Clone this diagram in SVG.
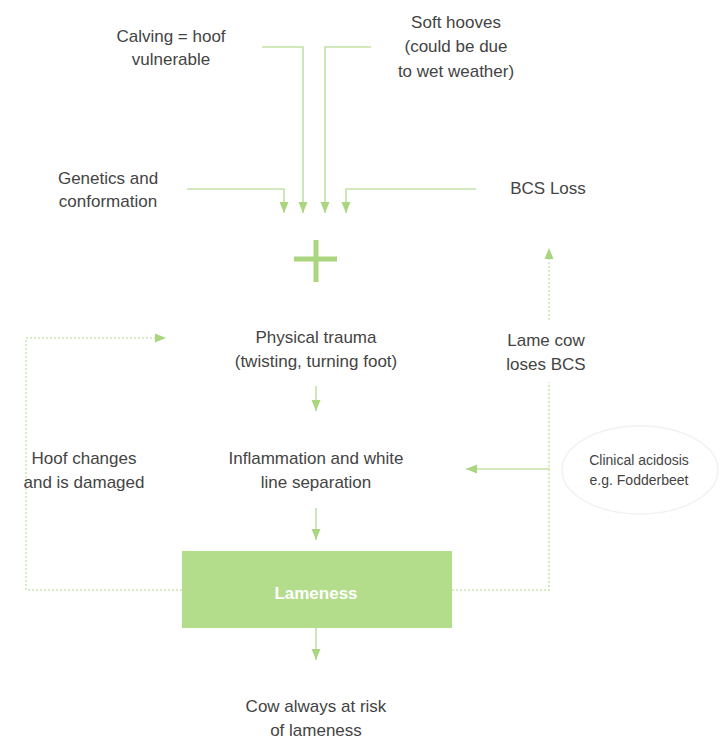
<svg xmlns="http://www.w3.org/2000/svg" width="727" height="753" viewBox="0 0 727 753">
<style>
.t{font-family:"Liberation Sans","Open Sans",sans-serif;font-size:17px;fill:#444;text-anchor:middle}
.s{font-size:14px}
.ln{fill:none;stroke:#c2e2a6;stroke-width:1.6}
.dt{fill:none;stroke:#c9e6b0;stroke-width:1.5;stroke-dasharray:2 2}
.ah{fill:#a9d67f}
</style>
<defs>
<marker id="a" markerUnits="userSpaceOnUse" markerWidth="12" markerHeight="12" viewBox="0 0 12 12" refX="11" refY="6" orient="auto">
<path d="M0,1.5 L11,6 L0,10.5 Z" class="ah"/>
</marker>
</defs>
<rect width="727" height="753" fill="#fff"/>
<g id="connectors">
<path class="ln" d="M187,189 H284 V213" marker-end="url(#a)"/>
<path class="ln" d="M262,47 H303 V213" marker-end="url(#a)"/>
<path class="ln" d="M371,47 H325 V213" marker-end="url(#a)"/>
<path class="ln" d="M476,189 H346 V213" marker-end="url(#a)"/>
<path class="ln" d="M316,386 V411" marker-end="url(#a)"/>
<path class="ln" d="M316,508 V540" marker-end="url(#a)"/>
<path class="ln" d="M316,628 V660" marker-end="url(#a)"/>
<path class="ln" d="M550,469 H466" marker-end="url(#a)"/>
<path class="dt" d="M182,590 H26 V338 H166" marker-end="url(#a)"/>
<path class="dt" d="M452,590 H549 V382"/>
<path class="dt" d="M549,320 V248" marker-end="url(#a)"/>
</g>
<g id="calving"><text class="t" x="171" y="42">Calving = hoof</text><text class="t" x="171" y="65">vulnerable</text></g>
<g id="soft"><text class="t" x="456" y="28">Soft hooves</text><text class="t" x="456" y="52">(could be due</text><text class="t" x="456" y="77">to wet weather)</text></g>
<g id="genetics"><text class="t" x="108" y="184">Genetics and</text><text class="t" x="108" y="207">conformation</text></g>
<g id="bcs"><text class="t" x="548" y="194">BCS Loss</text></g>
<g id="plus"><path d="M316,240 V282 M294,259 H337" stroke="#a9d67f" stroke-width="5" fill="none"/></g>
<g id="trauma"><text class="t" x="316" y="343">Physical trauma</text><text class="t" x="316" y="367">(twisting, turning foot)</text></g>
<g id="lamecow"><text class="t" x="546" y="346">Lame cow</text><text class="t" x="546" y="370">loses BCS</text></g>
<g id="hoof"><text class="t" x="84" y="464">Hoof changes</text><text class="t" x="84" y="488">and is damaged</text></g>
<g id="inflam"><text class="t" x="316" y="464">Inflammation and white</text><text class="t" x="316" y="488">line separation</text></g>
<g id="acidosis"><ellipse cx="640" cy="470" rx="78" ry="44" fill="none" stroke="#f2f2f2" stroke-width="1.5"/><text class="t s" x="639" y="465">Clinical acidosis</text><text class="t s" x="639" y="485">e.g. Fodderbeet</text></g>
<g id="lameness"><rect x="182" y="551" width="270" height="77" fill="#b3dc8b"/><text class="t" x="316" y="599" style="fill:#fff;font-weight:bold">Lameness</text></g>
<g id="risk"><text class="t" x="316" y="712">Cow always at risk</text><text class="t" x="316" y="736">of lameness</text></g>
</svg>
